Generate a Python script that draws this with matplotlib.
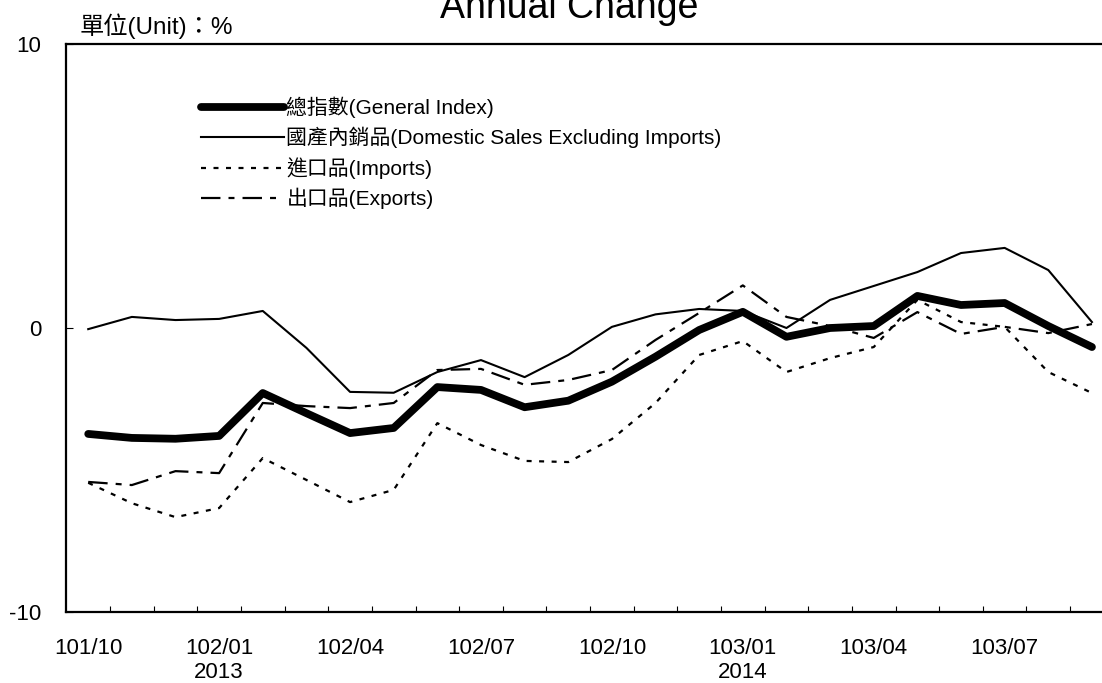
import numpy as np
import matplotlib
matplotlib.use("Agg")
import matplotlib.pyplot as plt

plt.rcParams['font.family'] = ['Liberation Sans', 'Noto Sans CJK TC', 'DejaVu Sans']
plt.rcParams['axes.unicode_minus'] = False
plt.rcParams['lines.scale_dashes'] = False

months = ['101/10', '101/11', '101/12', '102/01', '102/02', '102/03', '102/04', '102/05',
          '102/06', '102/07', '102/08', '102/09', '102/10', '102/11', '102/12', '103/01',
          '103/02', '103/03', '103/04', '103/05', '103/06', '103/07', '103/08', '103/09']
general = [-3.73, -3.87, -3.90, -3.80, -2.29, -3.00, -3.70, -3.52, -2.08, -2.18, -2.79, -2.56,
           -1.89, -1.01, -0.07, 0.57, -0.31, 0.00, 0.07, 1.13, 0.81, 0.88, 0.07, -0.67]
domestic = [-0.04, 0.39, 0.28, 0.32, 0.60, -0.70, -2.25, -2.28, -1.55, -1.13, -1.73, -0.95,
            0.04, 0.48, 0.67, 0.60, 0.00, 0.99, 1.48, 1.97, 2.64, 2.82, 2.04, 0.21]
imports = [-5.45, -6.17, -6.66, -6.34, -4.58, -5.35, -6.13, -5.70, -3.35, -4.12, -4.68, -4.72,
           -3.91, -2.64, -0.95, -0.46, -1.55, -1.06, -0.67, 0.99, 0.21, 0.04, -1.55, -2.29]
exports = [-5.42, -5.53, -5.04, -5.11, -2.64, -2.75, -2.82, -2.64, -1.48, -1.44, -2.00, -1.83,
           -1.48, -0.42, 0.53, 1.50, 0.39, 0.07, -0.35, 0.56, -0.21, 0.04, -0.18, 0.14]
series_labels = ['總指數(General Index)', '國產內銷品(Domestic Sales Excluding Imports)',
                 '進口品(Imports)', '出口品(Exports)']
tick_idx = [0, 3, 6, 9, 12, 15, 18, 21]
tick_labels = ['101/10', '102/01\n2013', '102/04', '102/07', '102/10', '103/01\n2014',
               '103/04', '103/07']
yticks = [-10, 0, 10]

W, H = 1102, 683
fig = plt.figure(figsize=(W / 100, H / 100), dpi=100)
left, top, bottom = 66.4, 44, 612
ax = fig.add_axes([left / W, 1 - bottom / H, 1 - left / W, (bottom - top) / H])

x = np.arange(len(months))
l2, = ax.plot(x, domestic, color='black', lw=1.5, label=series_labels[1])
l3, = ax.plot(x, imports, color='black', lw=1.6, dashes=(3.6, 5.4), label=series_labels[2])
l4, = ax.plot(x, exports, color='black', lw=1.6, dashes=(14.0, 5.8, 4.3, 5.8), label=series_labels[3])
l1, = ax.plot(x, general, color='black', lw=5.6, solid_capstyle='round',
              solid_joinstyle='round', label=series_labels[0])

ax.set_xlim(-0.5, (W - left) / 43.64 - 0.5)
ax.set_ylim(-10, 10)

ax.set_xticks(tick_idx)
ax.set_xticklabels(tick_labels, fontsize=16, linespacing=1.2)
ax.set_xticks(np.arange(0.5, len(months) - 1, 1), minor=True)
ax.tick_params(axis='x', which='major', length=0, pad=18.5)
ax.tick_params(axis='x', which='minor', direction='in', length=4.5, width=0.8)
ax.set_yticks(yticks)
ax.set_yticklabels([str(v) for v in yticks], fontsize=16)
ax.tick_params(axis='y', which='major', direction='in', length=5, width=0.8, pad=18)

for s in ['left', 'bottom', 'top']:
    ax.spines[s].set_linewidth(1.6)
ax.spines['right'].set_visible(False)

leg = ax.legend(handles=[l1, l2, l3, l4], loc='upper left',
                bbox_to_anchor=(201 / W, 1 - 97 / H), bbox_transform=fig.transFigure,
                frameon=False, fontsize=15, handlelength=4.0, handletextpad=0.1,
                labelspacing=0.42, borderpad=0, borderaxespad=0)

fig.text(569 / W, 1 - 18.5 / H, 'Annual Change', ha='center', va='baseline', fontsize=27)
fig.text(80 / W, 1 - 34 / H, '單位(Unit)：%', ha='left', va='baseline', fontsize=17.5)

fig.savefig('out.png', dpi=100)
